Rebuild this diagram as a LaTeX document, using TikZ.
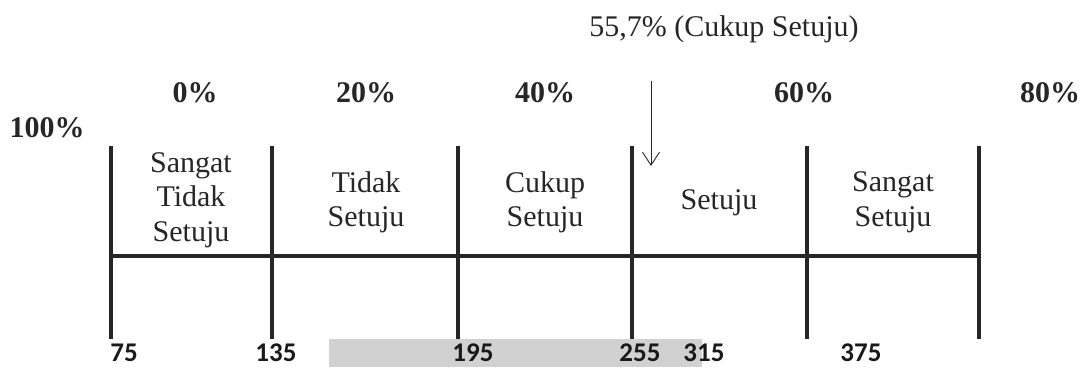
\documentclass[tikz,border=0pt]{standalone}
\usepackage{fontspec}
\setmainfont{Liberation Serif}
\newfontfamily\numfont{Carlito}
\usetikzlibrary{arrows.meta}
\begin{document}
\begin{tikzpicture}[x=1pt,y=-1pt,
  tick/.style={line width=4pt,draw=black!85},
  pct/.style={font={\fontsize{30}{34}\selectfont\bfseries},text=black!85,anchor=base},
  cat/.style={font={\fontsize{30}{34.5}\selectfont},align=center,text=black!85},
  val/.style={font={\fontsize{27}{30}\selectfont\numfont\bfseries},text=black!90,anchor=base},
  inner sep=0pt]
\useasboundingbox (0,0) rectangle (1090,367);
\fill[black!18] (329,339) rectangle (702,367);
% scale
\coordinate (h0) at (111,256);
\coordinate (h1) at (979,256);
\draw[tick] (h0) -- (h1);
\foreach \n/\x in {a/111,b/272,c/458,d/632,e/807,f/979}{
  \coordinate (\n t) at (\x,146);
  \coordinate (\n b) at (\x,339);
  \draw[tick] (\n t) -- (\n b);
}
% percentages
\node[pct] (p100) at (47,137) {100\%};
\node[pct] (p0) at (195,102) {0\%};
\node[pct] (p20) at (366,102) {20\%};
\node[pct] (p40) at (545,102) {40\%};
\node[pct] (p60) at (804,102) {60\%};
\node[pct] (p80) at (1050,102) {80\%};
% categories
\node[cat] (k1) at (191,200) {Sangat\\Tidak\\Setuju};
\node[cat] (k2) at (366,202.5) {Tidak\\Setuju};
\node[cat] (k3) at (545,202.5) {Cukup\\Setuju};
\node[cat] (k4) at (719,203) {Setuju};
\node[cat] (k5) at (893,202.5) {Sangat\\Setuju};
% result arrow
\node[font={\fontsize{30}{34}\selectfont},text=black!85,anchor=base] (res) at (724,36) {55,7\% (Cukup Setuju)};
\coordinate (ra) at (651,81);
\coordinate (rb) at (651,166);
\draw[line width=0.9pt,draw=black!85,-{Straight Barb[length=13pt,width=17pt,line width=0.9pt]}] (ra) -- (rb);
% values
\node[val] (v75) at (124,361) {75};
\node[val] (v135) at (276,361) {135};
\node[val] (v195) at (473,361) {195};
\node[val] (v255) at (640,361) {255};
\node[val] (v315) at (704,361) {315};
\node[val] (v375) at (861,361) {375};
\end{tikzpicture}
\end{document}
